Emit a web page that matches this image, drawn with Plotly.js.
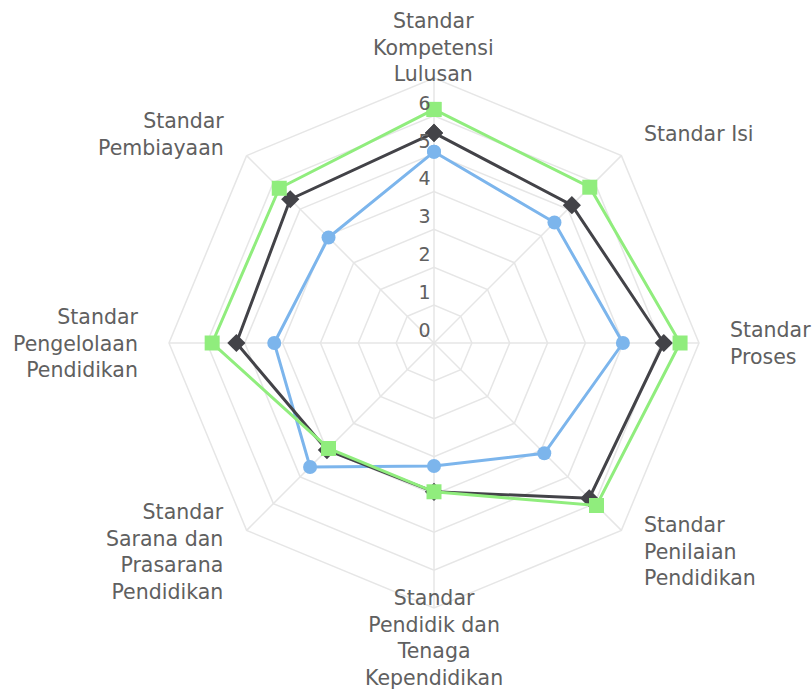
<!DOCTYPE html>
<html>
<head>
<meta charset="utf-8">
<script src="https://cdn.plot.ly/plotly-3.0.1.min.js"></script>
<style>html,body{margin:0;padding:0;background:#fff;}#chart{width:812px;height:692px;}</style>
</head>
<body>
<div id="chart"></div>
<script>
const categories = [
  "Standar Kompetensi Lulusan",
  "Standar Isi",
  "Standar Proses",
  "Standar Penilaian Pendidikan",
  "Standar Pendidik dan Tenaga Kependidikan",
  "Standar Sarana dan Prasarana Pendidikan",
  "Standar Pengelolaan Pendidikan",
  "Standar Pembiayaan"
];
const categoryLabels = [
  "Standar<br>Kompetensi<br>Lulusan",
  "Standar Isi",
  "Standar<br>Proses",
  "Standar<br>Penilaian<br>Pendidikan",
  "Standar<br>Pendidik dan<br>Tenaga<br>Kependidikan",
  "Standar<br>Sarana dan<br>Prasarana<br>Pendidikan",
  "Standar<br>Pengelolaan<br>Pendidikan",
  "Standar<br>Pembiayaan"
];
const seriesBlue  = [5.05, 4.5, 4.99, 4.12, 3.25, 4.63, 4.22, 3.94];
const seriesBlack = [5.55, 5.15, 6.07, 5.8, 3.93, 4.0, 5.22, 5.37];
const seriesGreen = [6.17, 5.82, 6.5, 6.07, 3.93, 3.94, 5.86, 5.78];
const radialTicks = [0, 1, 2, 3, 4, 5, 6];
const radialMax = 7;

const W = 812, H = 692;
const CX = 434, CY = 343, R = 265;   // pane centre and radius in pixels
const LABEL_GAP = 30;
const textColor = "#606060";
const fontFamily = "DejaVu Sans, sans-serif";

function closed(a){ return a.concat([a[0]]); }

const traces = [
  {name: "Series 1", values: seriesBlue, color: "#7cb5ec", symbol: "circle", size: 14},
  {name: "Series 2", values: seriesBlack, color: "#434348", symbol: "diamond", size: 14},
  {name: "Series 3", values: seriesGreen, color: "#90ed7d", symbol: "square", size: 15}
].map(s => ({
  type: "scatterpolar",
  mode: "lines+markers",
  name: s.name,
  r: closed(s.values),
  theta: closed(categories),
  line: {color: s.color, width: 3},
  marker: {color: s.color, symbol: s.symbol, size: s.size, line: {width: 0}},
  cliponaxis: false,
  hoverinfo: "none"
}));

// category labels placed around the pane, Highcharts-style
const annotations = categoryLabels.map((txt, i) => {
  const a = i * 2 * Math.PI / categoryLabels.length;
  const s = Math.sin(a), c = Math.cos(a);
  const px = CX + (R + LABEL_GAP) * s;
  const py = CY - (R + LABEL_GAP) * c;
  let xanchor = "center";
  if (s > 0.1) xanchor = "left";
  else if (s < -0.1) xanchor = "right";
  return {
    xref: "paper", yref: "paper",
    x: px / W, y: 1 - py / H,
    xanchor: xanchor, yanchor: "middle",
    align: xanchor === "center" ? "center" : (xanchor === "left" ? "left" : "right"),
    text: txt, showarrow: false, borderpad: 0,
    font: {family: fontFamily, size: 20.5, color: textColor}
  };
});

const layout = {
  width: W, height: H,
  margin: {l: 0, r: 0, t: 0, b: 0},
  paper_bgcolor: "#ffffff",
  showlegend: false,
  font: {family: fontFamily, size: 18, color: textColor},
  annotations: annotations,
  polar: {
    domain: {x: [(CX - R)/W, (CX + R)/W], y: [1 - (CY + R)/H, 1 - (CY - R)/H]},
    bgcolor: "#ffffff",
    gridshape: "linear",
    angularaxis: {
      type: "category",
      categoryarray: categories,
      direction: "clockwise",
      rotation: 90,
      showgrid: true,
      gridcolor: "#e6e6e6",
      gridwidth: 1.5,
      showline: true,
      linecolor: "#e6e6e6",
      linewidth: 1.5,
      ticks: "",
      showticklabels: false
    },
    radialaxis: {
      range: [0, radialMax],
      tickvals: radialTicks,
      ticktext: radialTicks.map(v => v + "<br> "),
      angle: 90,
      tickangle: 90,
      side: "counterclockwise",
      showline: false,
      ticks: "",
      gridcolor: "#e6e6e6",
      gridwidth: 1.5,
      tickfont: {family: fontFamily, size: 19, color: textColor}
    }
  }
};

Plotly.newPlot("chart", traces, layout, {displayModeBar: false, staticPlot: true});
</script>
</body>
</html>
